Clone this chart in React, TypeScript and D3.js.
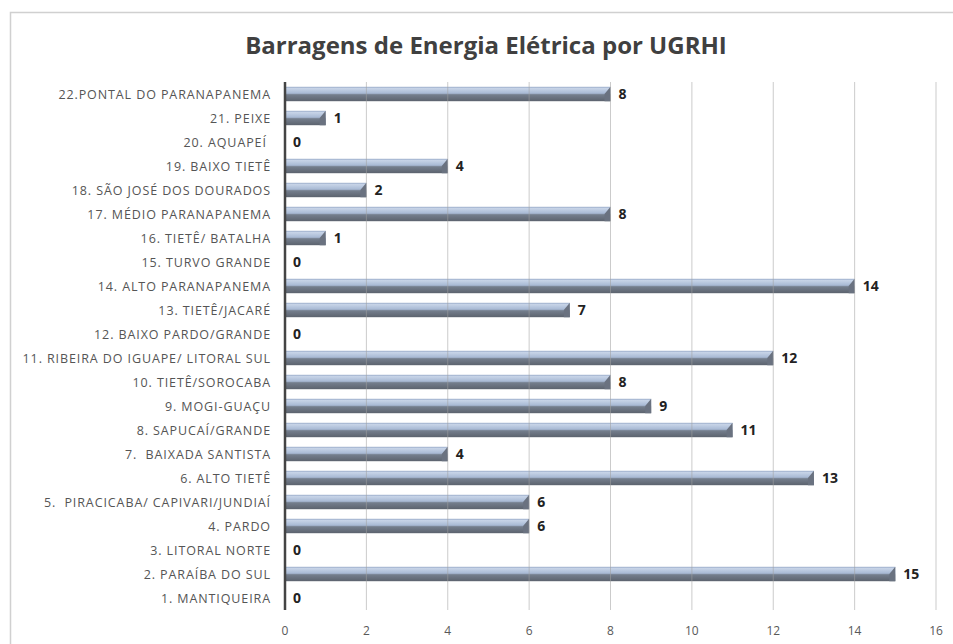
import React from "react";
import * as d3 from "d3";

const categories = [
  "1. MANTIQUEIRA",
  "2. PARAÍBA DO SUL",
  "3. LITORAL NORTE",
  "4. PARDO",
  "5.  PIRACICABA/ CAPIVARI/JUNDIAÍ",
  "6. ALTO TIETÊ",
  "7.  BAIXADA SANTISTA",
  "8. SAPUCAÍ/GRANDE",
  "9. MOGI-GUAÇU",
  "10. TIETÊ/SOROCABA",
  "11. RIBEIRA DO IGUAPE/ LITORAL SUL",
  "12. BAIXO PARDO/GRANDE",
  "13. TIETÊ/JACARÉ",
  "14. ALTO PARANAPANEMA",
  "15. TURVO GRANDE",
  "16. TIETÊ/ BATALHA",
  "17. MÉDIO PARANAPANEMA",
  "18. SÃO JOSÉ DOS DOURADOS",
  "19. BAIXO TIETÊ",
  "20. AQUAPEÍ ",
  "21. PEIXE",
  "22.PONTAL DO PARANAPANEMA",
];
const values = [0, 15, 0, 6, 6, 13, 4, 11, 9, 8, 12, 0, 7, 14, 0, 1, 8, 2, 4, 0, 1, 8];
const xTicks = [0, 2, 4, 6, 8, 10, 12, 14, 16];
const title = "Barragens de Energia Elétrica por UGRHI";

export default function App() {
  const W = 953, H = 644;
  const left = 285, right = 936, top = 82, bottom = 610;
  const x = d3.scaleLinear().domain([0, 16]).range([left, right]);
  const y = d3
    .scaleBand<string>()
    .domain([...categories].reverse())
    .range([top, bottom])
    .paddingInner(0.4)
    .paddingOuter(0.2);
  const bh = y.bandwidth();
  const font = "'Open Sans', Lato, sans-serif";
  return (
    <svg
      width={W}
      height={H}
      style={{ position: "absolute", left: 0, top: 0, background: "#fff" }}
    >
      <defs>
        <linearGradient id="barGrad" x1="0" y1="0" x2="0" y2="1">
          <stop offset="0" stopColor="#98aac8" />
          <stop offset="0.12" stopColor="#c6d3e7" />
          <stop offset="0.45" stopColor="#a8b9d4" />
          <stop offset="0.55" stopColor="#747e8d" />
          <stop offset="1" stopColor="#5c636e" />
        </linearGradient>
      </defs>
      <rect x={10.5} y={12.5} width={W} height={H} fill="#fff" stroke="#d0d0d0" strokeWidth={1.5} />
      <text
        x={486}
        y={54}
        textAnchor="middle"
        fontFamily={font}
        fontWeight="bold"
        fontSize={24}
        fill="#404040"
      >
        {title}
      </text>
      {categories.map((c, i) => {
        const v = values[i];
        const yy = y(c)!;
        const xe = x(v);
        const bev = Math.min(6, bh / 2);
        return (
          <g key={c}>
            {v > 0 && (
              <g>
                <rect x={left} y={yy} width={xe - left} height={bh} fill="url(#barGrad)" />
                <path
                  d={`M${xe - bev},${yy + bh / 2} L${xe},${yy} L${xe},${yy + bh} L${xe - bev},${yy + bh} Z`}
                  fill="#6a7280"
                />
              </g>
            )}
            <text
              x={xe + 8}
              y={yy + bh / 2 + 5}
              fontFamily={font}
              fontWeight="bold"
              fontSize={14}
              fill="#222"
            >
              {v}
            </text>
            <text
              x={271}
              y={yy + bh / 2 + 4.5}
              textAnchor="end"
              fontFamily={font}
              fontSize={12.5}
              letterSpacing={0.9}
              fill="#555"
              style={{ whiteSpace: "pre" }}
            >
              {c}
            </text>
          </g>
        );
      })}
      {xTicks.slice(1).map((t) => (
        <line
          key={t}
          x1={x(t)}
          x2={x(t)}
          y1={top}
          y2={bottom}
          stroke="#a0a0a0"
          strokeOpacity={0.55}
          strokeWidth={1}
        />
      ))}
      <line x1={left} x2={left} y1={top} y2={bottom} stroke="#444" strokeWidth={2.5} />
      {xTicks.map((t) => (
        <text
          key={t}
          x={x(t)}
          y={635}
          textAnchor="middle"
          fontFamily={font}
          fontSize={12}
          fill="#595959"
        >
          {t}
        </text>
      ))}
    </svg>
  );
}
